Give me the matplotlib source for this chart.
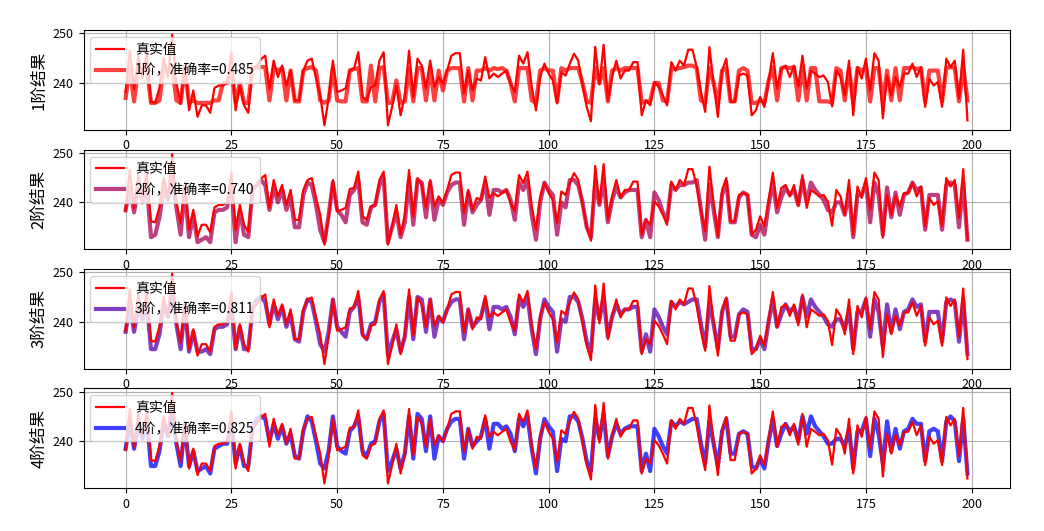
import matplotlib
matplotlib.use("Agg")
import matplotlib.pyplot as plt
import numpy as np

plt.rcParams['font.family'] = ['Noto Sans CJK SC', 'DejaVu Sans']
plt.rcParams['axes.unicode_minus'] = False

# 真实值
real = [
    238.2, 246.5, 238.8, 245.5, 241.0, 246.0, 236.2, 236.0, 239.0, 245.0,
    241.0, 249.7, 240.0, 235.8, 244.0, 234.5, 238.5, 233.2, 235.5, 235.5,
    234.0, 239.0, 239.5, 239.5, 240.0, 246.0, 234.5, 239.5, 235.5, 234.0,
    243.0, 243.5, 244.8, 245.5, 238.9, 244.5, 241.2, 243.5, 239.5, 242.5,
    236.5, 236.5, 242.5, 244.5, 244.9, 241.0, 237.5, 231.5, 237.0, 244.5,
    238.2, 238.5, 238.9, 242.7, 242.9, 246.2, 237.2, 236.5, 239.2, 239.5,
    244.5, 246.2, 231.5, 235.2, 239.5, 233.5, 237.5, 246.5, 237.2, 244.9,
    243.5, 238.9, 244.5, 239.2, 241.2, 239.9, 242.5, 245.5, 246.0, 246.0,
    237.9, 242.5, 238.5, 240.9, 240.5, 245.2, 240.9, 241.9, 241.2, 241.9,
    242.5, 239.9, 238.2, 245.5, 243.9, 246.2, 239.2, 234.5, 241.2, 243.9,
    241.9, 240.5, 235.9, 242.2, 241.5, 243.9, 245.9, 244.5, 239.7, 235.2,
    232.3, 247.3, 239.7, 247.7, 236.5, 241.2, 244.5, 240.9, 242.5, 242.5,
    244.2, 244.2, 233.5, 236.5, 235.5, 240.2, 239.2, 237.5, 235.5, 244.2,
    242.5, 244.5, 243.5, 246.7, 246.7, 243.2, 238.2, 234.2, 247.2, 239.9,
    233.2, 242.5, 244.9, 236.2, 236.2, 241.5, 241.9, 241.5, 233.5, 234.5,
    237.2, 235.2, 240.5, 246.0, 238.9, 242.9, 243.5, 241.2, 243.5, 239.3,
    245.5, 238.9, 242.5, 241.9, 241.2, 241.5, 240.2, 235.3, 242.5, 241.2,
    237.5, 244.5, 233.5, 243.2, 240.9, 244.9, 238.5, 246.0, 244.5, 232.9,
    241.5, 237.5, 241.2, 239.2, 241.9, 241.9, 243.9, 241.2, 243.2, 235.2,
    240.9, 239.5, 240.2, 235.2, 244.9, 243.2, 244.5, 236.9, 246.7, 232.5,
]

# 1阶预测
pred_1 = [
    237.0, 243.0, 236.3, 243.0, 242.5, 243.2, 236.0, 236.0, 236.5, 243.0,
    242.5, 243.5, 236.5, 236.0, 243.0, 236.0, 236.5, 236.0, 236.0, 236.0,
    236.0, 236.5, 236.5, 240.0, 240.0, 243.0, 236.0, 240.0, 236.0, 236.0,
    243.0, 243.0, 243.2, 243.2, 236.5, 243.0, 242.5, 243.0, 236.5, 242.5,
    236.3, 236.3, 242.5, 243.0, 243.2, 242.5, 236.5, 236.0, 236.5, 243.0,
    236.5, 236.3, 236.3, 242.5, 242.8, 243.0, 236.3, 236.3, 243.5, 236.3,
    243.0, 243.2, 236.0, 236.0, 240.5, 236.0, 236.3, 243.0, 236.3, 243.0,
    243.0, 236.5, 243.0, 236.5, 242.5, 238.5, 242.5, 243.0, 243.0, 243.0,
    236.3, 243.0, 236.5, 242.5, 242.5, 243.0, 242.5, 243.0, 242.8, 243.0,
    242.5, 240.0, 236.3, 243.0, 243.0, 243.0, 236.5, 236.0, 242.5, 243.0,
    242.5, 242.5, 236.3, 243.0, 242.5, 243.0, 243.0, 243.0, 240.0, 236.3,
    236.0, 243.0, 240.0, 243.0, 236.3, 242.5, 243.0, 242.5, 243.0, 243.0,
    243.0, 243.0, 236.0, 236.3, 236.3, 240.0, 240.0, 236.5, 236.3, 242.8,
    242.8, 243.0, 243.2, 243.5, 243.5, 243.0, 236.5, 236.0, 243.0, 240.0,
    236.0, 242.5, 243.0, 236.3, 236.3, 242.5, 243.0, 242.5, 236.0, 236.0,
    236.5, 236.0, 240.5, 243.2, 236.5, 243.0, 243.2, 243.0, 243.2, 236.5,
    243.2, 236.5, 243.0, 243.0, 236.3, 236.3, 236.3, 236.0, 243.0, 242.5,
    236.5, 243.0, 236.0, 243.0, 242.5, 243.0, 236.3, 243.0, 243.0, 236.0,
    242.5, 236.5, 243.0, 236.5, 243.0, 243.0, 243.2, 242.8, 243.0, 236.3,
    242.5, 242.5, 242.5, 236.3, 243.0, 243.2, 243.0, 236.3, 243.2, 236.5,
]

# 2阶预测
pred_2 = [
    238.5, 243.0, 238.0, 243.0, 240.0, 243.5, 233.0, 233.5, 237.0, 243.0,
    240.5, 245.5, 239.0, 233.5, 242.5, 233.0, 237.5, 232.0, 232.5, 233.0,
    232.0, 238.0, 238.5, 238.5, 239.0, 243.5, 232.0, 238.5, 233.5, 233.0,
    242.5, 243.5, 244.5, 243.5, 238.5, 243.0, 240.0, 242.5, 238.5, 241.0,
    235.0, 235.0, 241.5, 244.0, 243.5, 239.5, 234.5, 232.0, 237.5, 244.0,
    238.5, 237.5, 236.0, 241.5, 242.5, 244.5, 236.0, 235.5, 239.0, 239.5,
    243.5, 245.0, 232.0, 235.0, 238.0, 233.0, 236.0, 244.5, 235.5, 244.5,
    244.0, 237.0, 244.0, 236.5, 240.5, 239.5, 242.0, 243.5, 244.0, 244.0,
    235.5, 242.0, 238.0, 239.5, 240.5, 244.0, 237.5, 242.5, 242.5, 242.0,
    242.5, 240.5, 236.5, 244.0, 242.5, 244.5, 237.5, 232.5, 240.0, 244.0,
    242.5, 241.5, 233.5, 240.0, 239.0, 244.5, 244.5, 243.5, 240.0, 235.0,
    233.0, 244.0, 239.5, 244.5, 236.0, 240.5, 243.0, 241.0, 242.0, 242.5,
    242.5, 242.5, 233.0, 236.5, 233.0, 242.0, 240.5, 238.0, 236.5, 243.5,
    242.5, 243.5, 243.5, 244.0, 244.0, 244.5, 238.5, 232.5, 243.5, 238.5,
    233.0, 241.5, 244.0, 236.0, 236.0, 241.0, 242.0, 241.5, 233.5, 233.0,
    235.5, 233.5, 239.5, 244.0, 238.0, 241.0, 243.0, 241.5, 242.5, 239.5,
    244.5, 240.0, 244.0, 242.5, 241.5, 240.5, 238.5, 238.0, 240.0, 240.0,
    237.5, 242.0, 233.0, 241.5, 241.5, 244.0, 236.0, 244.0, 241.5, 233.5,
    243.0, 237.0, 242.0, 237.5, 241.5, 242.0, 244.0, 242.5, 243.0, 234.5,
    241.5, 241.5, 241.5, 234.5, 243.5, 244.0, 243.5, 235.0, 244.0, 232.5,
]

# 3阶预测
pred_3 = [
    238.0, 243.5, 238.0, 243.0, 240.5, 244.0, 234.5, 234.5, 237.5, 243.5,
    241.0, 246.0, 239.5, 234.5, 243.0, 234.0, 238.0, 234.0, 234.0, 234.5,
    233.5, 238.5, 239.0, 239.0, 239.5, 243.5, 234.5, 239.0, 234.5, 234.5,
    242.5, 244.5, 245.0, 244.0, 239.5, 243.5, 240.5, 243.0, 239.0, 241.5,
    236.5, 236.0, 242.0, 244.5, 244.0, 240.0, 235.5, 234.0, 238.0, 244.5,
    239.0, 238.0, 237.0, 242.0, 243.0, 245.0, 237.5, 236.5, 239.5, 240.0,
    244.0, 245.5, 233.5, 236.0, 238.5, 234.0, 237.0, 245.0, 236.5, 245.0,
    244.5, 238.0, 244.5, 237.0, 241.0, 240.0, 242.5, 244.0, 244.5, 244.5,
    236.5, 242.5, 239.0, 240.0, 241.0, 244.5, 238.5, 243.0, 243.0, 242.5,
    243.0, 241.0, 237.5, 244.5, 243.0, 245.0, 238.5, 233.5, 240.5, 244.5,
    243.0, 242.0, 234.0, 240.5, 240.0, 245.0, 245.0, 244.0, 240.5, 236.0,
    234.0, 244.5, 240.5, 245.0, 237.0, 241.0, 243.5, 241.5, 242.5, 242.5,
    243.0, 243.0, 234.0, 237.5, 234.0, 242.5, 241.0, 239.0, 237.5, 244.0,
    243.0, 244.0, 243.5, 244.0, 244.5, 244.5, 239.5, 235.0, 244.0, 239.5,
    234.5, 242.0, 244.5, 237.0, 237.0, 241.5, 242.5, 242.0, 234.5, 234.5,
    236.5, 234.5, 240.0, 244.5, 239.0, 241.5, 243.5, 242.0, 243.0, 240.0,
    245.0, 241.0, 244.5, 243.0, 242.0, 241.0, 239.5, 239.0, 240.5, 240.5,
    238.5, 242.5, 234.5, 242.0, 242.0, 244.5, 237.0, 244.5, 242.0, 235.0,
    243.5, 238.0, 242.5, 238.5, 242.0, 242.5, 244.5, 243.0, 243.5, 236.0,
    242.0, 242.0, 242.0, 236.0, 244.0, 244.5, 244.0, 236.0, 244.5, 233.5,
]

# 4阶预测
pred_4 = [
    238.5, 244.0, 238.5, 243.5, 240.5, 244.5, 235.0, 235.0, 238.0, 244.0,
    241.0, 246.5, 239.5, 235.0, 243.0, 235.0, 238.0, 234.0, 234.5, 235.0,
    233.5, 238.5, 239.0, 239.5, 239.5, 244.0, 235.5, 239.0, 235.0, 235.0,
    242.5, 244.5, 245.0, 244.5, 240.0, 243.5, 240.5, 243.0, 239.5, 241.5,
    237.0, 236.5, 242.0, 245.0, 244.0, 240.0, 235.5, 234.5, 238.0, 245.0,
    239.0, 238.0, 237.5, 242.0, 243.0, 245.0, 238.0, 237.0, 239.5, 240.0,
    244.0, 245.5, 234.0, 236.0, 238.5, 234.5, 237.5, 245.0, 236.5, 245.5,
    244.5, 238.0, 245.0, 236.5, 241.0, 240.0, 242.5, 244.0, 244.5, 244.5,
    236.5, 242.5, 239.0, 240.0, 241.0, 244.5, 238.5, 243.5, 243.5, 242.5,
    243.0, 241.5, 238.0, 244.5, 243.0, 245.0, 238.5, 233.5, 240.5, 244.5,
    243.0, 242.0, 234.0, 240.5, 240.0, 245.0, 245.0, 244.0, 240.5, 236.0,
    234.0, 244.5, 240.5, 245.5, 237.0, 241.0, 243.5, 241.5, 242.5, 243.0,
    243.0, 243.0, 234.0, 237.5, 234.0, 242.5, 241.0, 239.0, 237.5, 244.0,
    243.0, 244.0, 243.5, 244.0, 244.5, 244.5, 239.5, 235.5, 244.0, 239.5,
    235.0, 242.0, 244.5, 237.5, 237.5, 241.5, 242.0, 241.5, 235.0, 234.5,
    236.5, 234.5, 240.0, 244.5, 239.0, 241.5, 243.5, 242.0, 243.0, 240.0,
    245.0, 241.5, 245.0, 243.0, 242.0, 241.0, 239.5, 239.5, 240.5, 240.5,
    239.0, 242.5, 234.5, 242.0, 242.0, 244.5, 237.0, 244.5, 241.5, 235.5,
    244.0, 238.0, 242.5, 238.5, 242.0, 242.5, 244.5, 243.5, 243.5, 236.0,
    242.0, 242.5, 242.0, 236.0, 244.0, 245.0, 244.0, 236.0, 244.5, 233.5,
]

preds = [pred_1, pred_2, pred_3, pred_4]
accuracy = [0.485, 0.740, 0.811, 0.825]

fig, axes = plt.subplots(4, 1, figsize=(10.44, 5.31), dpi=100)
fig.subplots_adjust(left=0.08, right=0.967, top=0.943, bottom=0.081, hspace=0.2)

x = np.arange(len(real))
for k, ax in enumerate(axes):
    frac = k / 3
    color = (1 - frac, 0, frac)
    ax.plot(x, real, 'r-', lw=1.6, label='真实值', zorder=3)
    ax.plot(x, preds[k], color=color, lw=3, alpha=0.75,
            label=f'{k + 1}阶，准确率={accuracy[k]:.3f}', zorder=2)
    ax.set_ylabel(f'{k + 1}阶结果', fontsize=12)
    ax.grid(True)
    ax.legend(loc='upper left', fontsize=10)
    ax.tick_params(labelsize=9)

plt.savefig("out.png")
